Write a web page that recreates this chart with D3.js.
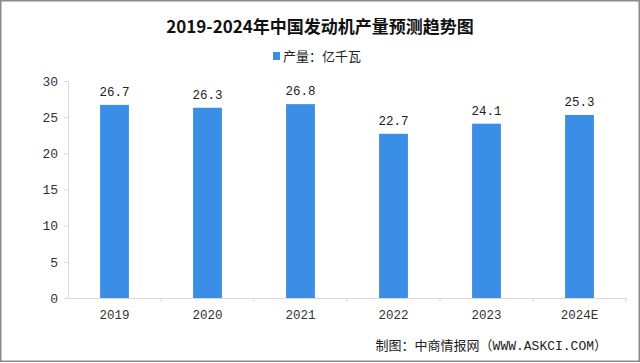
<!DOCTYPE html>
<html>
<head>
<meta charset="utf-8">
<script src="https://d3js.org/d3.v7.min.js"></script>
<style>
  body { margin: 0; background: #fff; }
  svg { display: block; font-family: "Liberation Mono", "Noto Sans CJK SC", monospace; }
  .axis path, .axis line { stroke: #d9d9d9; }
  .axis text { fill: #333; }
</style>
</head>
<body>
<script>
var years = ["2019", "2020", "2021", "2022", "2023", "2024E"];
var output = [26.7, 26.3, 26.8, 22.7, 24.1, 25.3];
var yTicks = [0, 5, 10, 15, 20, 25, 30];

var W = 640, H = 363;
var margin = {top: 81, right: 14, bottom: 65, left: 68};
var width = W - margin.left - margin.right;
var height = H - margin.top - margin.bottom;

var svg = d3.select("body").append("svg")
    .attr("width", W)
    .attr("height", H);

var g = svg.append("g")
    .attr("transform", "translate(" + margin.left + "," + margin.top + ")");

var x = d3.scaleBand().domain(years).range([0, width]).paddingInner(0.69).paddingOuter(0.345);
var xTick = d3.scaleBand().domain(years).range([0, width]);
var y = d3.scaleLinear().domain([0, 30]).range([height, 0]);

g.append("g")
    .attr("class", "axis")
    .call(d3.axisLeft(y).tickValues(yTicks).tickSize(4).tickPadding(6))
    .call(function(s) { s.selectAll("text").attr("font-size", 13).attr("font-family", "Liberation Mono"); });

var xa = g.append("g")
    .attr("class", "axis")
    .attr("transform", "translate(0," + height + ")")
    .call(d3.axisBottom(xTick).tickSize(0).tickPadding(12).tickSizeOuter(0));
xa.selectAll("text").attr("font-size", 12.5).attr("font-family", "Liberation Mono");
xa.selectAll(".bt").data(years).enter().append("line")
    .attr("x1", function(d) { return xTick(d) + xTick.bandwidth(); })
    .attr("x2", function(d) { return xTick(d) + xTick.bandwidth(); })
    .attr("y1", 0).attr("y2", 4)
    .attr("stroke", "#d9d9d9");

g.selectAll(".bar").data(output).enter().append("rect")
    .attr("x", function(d, i) { return x(years[i]); })
    .attr("y", function(d) { return y(d); })
    .attr("width", x.bandwidth())
    .attr("height", function(d) { return height - y(d); })
    .attr("fill", "#3a8ee6");

g.selectAll(".val").data(output).enter().append("text")
    .attr("x", function(d, i) { return x(years[i]) + x.bandwidth() / 2; })
    .attr("y", function(d) { return y(d) - 9; })
    .attr("text-anchor", "middle")
    .attr("font-size", 12.5)
    .attr("fill", "#222")
    .text(function(d) { return d.toFixed(1); });

svg.append("text")
    .attr("x", 320).attr("y", 33)
    .attr("text-anchor", "middle")
    .attr("font-size", 17)
    .attr("font-weight", "bold")
    .attr("fill", "#111")
    .attr("font-family", "Noto Sans CJK SC")
    .text("2019-2024年中国发动机产量预测趋势图");

svg.append("rect").attr("x", 273).attr("y", 52).attr("width", 7).attr("height", 8).attr("fill", "#3a8ee6");
svg.append("text")
    .attr("x", 283).attr("y", 61)
    .attr("font-size", 13)
    .attr("fill", "#222")
    .attr("font-family", "Noto Sans CJK SC")
    .text("产量：亿千瓦");

svg.append("text")
    .attr("x", 607).attr("y", 350)
    .attr("text-anchor", "end")
    .attr("font-size", 13)
    .attr("fill", "#222")
    .text("制图：中商情报网（WWW.ASKCI.COM）");

svg.append("rect")
    .attr("x", 0.75).attr("y", 0.75)
    .attr("width", W - 1.5).attr("height", H - 2.5)
    .attr("fill", "none")
    .attr("stroke", "#8a8a8a")
    .attr("stroke-width", 1.5);
</script>
</body>
</html>
